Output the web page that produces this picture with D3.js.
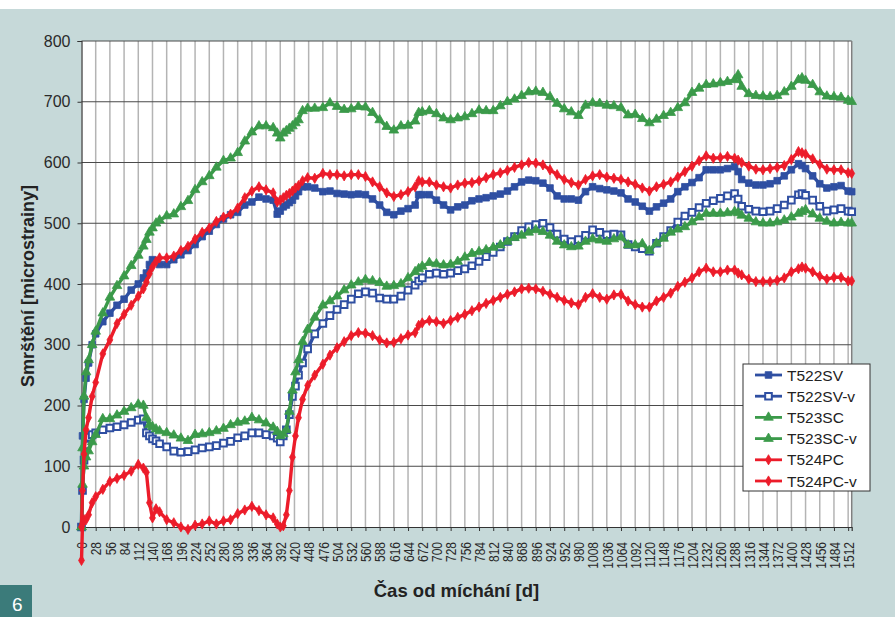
<!DOCTYPE html>
<html>
<head>
<meta charset="utf-8">
<script src="https://cdn.jsdelivr.net/npm/d3@7"></script>
<style>
  html, body { margin: 0; padding: 0; background: #ffffff; }
  svg { display: block; font-family: "Liberation Sans", Arial, sans-serif; }
</style>
</head>
<body>
<svg id="chart" width="895" height="617"></svg>
<script>
// ---------------- DATA ----------------
const days = [0, 2, 5, 9, 14, 21, 28, 42, 56, 70, 84, 98, 112, 122, 128, 134, 140, 147, 154, 168, 182, 196, 210, 224, 238, 252, 266, 280, 294, 308, 322, 336, 350, 364, 378, 386, 392, 398, 404, 410, 416, 422, 428, 436, 446, 460, 476, 490, 504, 518, 532, 546, 560, 574, 588, 602, 616, 630, 644, 658, 665, 672, 686, 700, 714, 728, 742, 756, 770, 784, 798, 812, 826, 840, 854, 868, 882, 896, 910, 924, 938, 952, 966, 980, 994, 1008, 1022, 1036, 1050, 1064, 1078, 1092, 1106, 1120, 1134, 1148, 1162, 1176, 1190, 1204, 1218, 1232, 1246, 1260, 1274, 1288, 1295, 1302, 1316, 1330, 1344, 1358, 1372, 1386, 1400, 1414, 1421, 1428, 1442, 1456, 1470, 1484, 1498, 1512, 1519];

const t522SV = [0, 150, 210, 245, 270, 300, 318, 338, 352, 365, 375, 390, 400, 410, 418, 432, 440, 438, 432, 432, 440, 448, 455, 465, 478, 487, 498, 507, 514, 518, 530, 535, 543, 540, 538, 515, 520, 527, 530, 534, 538, 545, 552, 560, 560, 558, 552, 553, 549, 548, 547, 548, 547, 540, 530, 518, 514, 520, 524, 530, 547, 547, 547, 538, 530, 522, 527, 530, 537, 540, 542, 545, 548, 553, 560, 568, 571, 570, 566, 558, 545, 540, 540, 538, 552, 560, 557, 555, 553, 550, 540, 535, 528, 520, 527, 533, 540, 552, 560, 567, 575, 588, 588, 588, 590, 593, 585, 572, 566, 563, 563, 565, 570, 578, 588, 598, 595, 590, 578, 565, 558, 560, 562, 553, 552];

const t522SVv = [0, 60, 110, 135, 148, 152, 155, 160, 163, 165, 168, 172, 176, 178, 155, 150, 145, 142, 137, 132, 125, 123, 124, 127, 130, 132, 134, 138, 141, 147, 150, 155, 155, 152, 150, 146, 140, 150, 160, 185, 215, 232, 250, 270, 293, 318, 335, 348, 358, 366, 375, 384, 387, 385, 377, 375, 375, 380, 390, 398, 405, 410, 416, 418, 416, 418, 422, 425, 430, 437, 445, 452, 461, 470, 478, 488, 494, 498, 500, 493, 482, 474, 470, 473, 480, 489, 485, 481, 482, 481, 465, 461, 458, 454, 467, 478, 488, 502, 512, 518, 526, 533, 537, 541, 545, 549, 540, 528, 523, 520, 519, 520, 524, 530, 538, 547, 549, 546, 538, 528, 520, 522, 524, 520, 519];

const t523SC = [0, 130, 215, 255, 275, 300, 322, 352, 378, 397, 413, 430, 447, 462, 473, 485, 492, 500, 505, 512, 515, 527, 537, 555, 568, 578, 592, 603, 607, 616, 635, 650, 660, 660, 657, 648, 640, 648, 652, 656, 660, 665, 670, 685, 689, 689, 690, 698, 692, 687, 688, 692, 691, 682, 670, 659, 653, 660, 661, 668, 682, 683, 685, 680, 673, 670, 673, 675, 680, 686, 685, 685, 693, 700, 704, 710, 716, 717, 715, 708, 697, 688, 683, 677, 694, 698, 697, 694, 693, 690, 678, 679, 672, 665, 671, 677, 682, 690, 698, 715, 722, 728, 729, 731, 733, 736, 744, 725, 713, 710, 709, 708, 710, 716, 725, 736, 739, 735, 728, 716, 709, 708, 707, 702, 700];

const t523SCv = [0, 70, 100, 115, 125, 140, 152, 178, 178, 184, 190, 196, 202, 200, 180, 168, 165, 161, 158, 155, 151, 146, 142, 152, 153, 155, 158, 162, 168, 172, 174, 180, 176, 171, 164, 157, 150, 153, 160, 190, 225, 255, 275, 305, 325, 345, 365, 372, 380, 390, 398, 403, 407, 405, 402, 396, 397, 400, 410, 420, 425, 429, 435, 433, 431, 432, 437, 444, 450, 453, 456, 460, 464, 470, 476, 480, 485, 489, 486, 480, 470, 464, 461, 462, 470, 474, 472, 470, 474, 477, 464, 464, 466, 455, 467, 475, 485, 490, 494, 502, 510, 516, 516, 516, 517, 519, 517, 513, 508, 502, 500, 500, 502, 505, 510, 516, 519, 522, 515, 508, 503, 500, 501, 500, 500];

const t524PC = [0, 60, 120, 160, 180, 215, 238, 285, 308, 335, 350, 365, 380, 392, 403, 417, 428, 437, 443, 443, 446, 455, 462, 474, 485, 492, 503, 510, 515, 525, 542, 553, 560, 555, 550, 535, 538, 542, 546, 549, 553, 558, 562, 570, 575, 574, 582, 580, 580, 578, 580, 580, 577, 568, 560, 550, 544, 547, 552, 560, 570, 568, 568, 563, 560, 558, 563, 566, 567, 570, 575, 580, 583, 587, 592, 596, 600, 599, 596, 588, 580, 572, 567, 563, 572, 578, 580, 576, 574, 572, 568, 564, 558, 553, 560, 564, 568, 576, 585, 594, 603, 611, 607, 608, 610, 607, 604, 600, 594, 589, 588, 590, 592, 595, 605, 618, 616, 614, 606, 597, 589, 588, 588, 583, 582];

const t524PCv = [-55, 5, 12, 12, 20, 40, 50, 62, 75, 80, 85, 92, 103, 97, 90, 40, 15, 30, 25, 12, 7, 0, -4, 3, 5, 10, 5, 10, 12, 22, 28, 34, 27, 20, 15, 5, 0, 2, 20, 60, 115, 150, 180, 210, 233, 250, 268, 283, 295, 305, 315, 320, 319, 315, 308, 303, 304, 310, 316, 320, 332, 336, 340, 338, 335, 340, 345, 350, 356, 362, 368, 373, 378, 383, 387, 392, 393, 392, 388, 383, 378, 373, 369, 366, 378, 384, 378, 375, 382, 383, 372, 366, 362, 362, 372, 378, 385, 396, 403, 410, 420, 426, 420, 420, 423, 423, 418, 415, 408, 404, 404, 404, 406, 410, 420, 425, 428, 426, 420, 413, 408, 411, 411, 405, 405];

const seriesNames = ["T522SV", "T522SV-v", "T523SC", "T523SC-v", "T524PC", "T524PC-v"];
const seriesValues = [t522SV, t522SVv, t523SC, t523SCv, t524PC, t524PCv];
const xTickValues = d3.range(0, 1513, 28);
const yTickValues = [0, 100, 200, 300, 400, 500, 600, 700, 800];

// ---------------- STYLE ----------------
const BLUE = "#2f4fa2", GREEN = "#3b9a4a", RED = "#ec1c2a";
const styles = [
  { color: BLUE,  shape: "square",   fill: BLUE },
  { color: BLUE,  shape: "square",   fill: "#ffffff" },
  { color: GREEN, shape: "triangle", fill: GREEN },
  { color: GREEN, shape: "triangle", fill: GREEN },
  { color: RED,   shape: "diamond",  fill: RED },
  { color: RED,   shape: "diamond",  fill: RED }
];

const svg = d3.select("#chart");
const W = 895, H = 617;

// background
svg.append("rect").attr("x", 0).attr("y", 0).attr("width", W).attr("height", H).attr("fill", "#c6d9d9");
svg.append("rect").attr("x", 0).attr("y", 0).attr("width", W).attr("height", 9).attr("fill", "#ffffff");

const plot = { left: 81.5, right: 851.7, top: 41, bottom: 527 };

const x = d3.scaleLinear().domain([0, 1519]).range([plot.left, plot.right]);
const y = d3.scaleLinear().domain([0, 800]).range([plot.bottom, plot.top]);

// plot area
svg.append("rect")
  .attr("x", plot.left).attr("y", plot.top)
  .attr("width", plot.right - plot.left).attr("height", plot.bottom - plot.top)
  .attr("fill", "#ffffff");

// vertical gridlines
svg.append("g").selectAll("line").data(xTickValues.filter(d => d > 0)).join("line")
  .attr("x1", d => x(d)).attr("x2", d => x(d))
  .attr("y1", plot.top).attr("y2", plot.bottom)
  .attr("stroke", "#b4b4b4").attr("stroke-width", 1.5);

// horizontal gridlines
svg.append("g").selectAll("line").data(yTickValues.filter(d => d > 0)).join("line")
  .attr("x1", plot.left).attr("x2", plot.right)
  .attr("y1", d => y(d)).attr("y2", d => y(d))
  .attr("stroke", "#4a4a4a").attr("stroke-width", 1);

// right border
svg.append("line").attr("x1", plot.right).attr("x2", plot.right)
  .attr("y1", plot.top).attr("y2", plot.bottom)
  .attr("stroke", "#808080").attr("stroke-width", 1.5);

// Y axis
const yAxis = d3.axisLeft(y).tickValues(yTickValues).tickSize(4).tickPadding(7);
const gy = svg.append("g").attr("transform", `translate(${plot.left},0)`).call(yAxis);
gy.select(".domain").attr("stroke", "#333").attr("stroke-width", 1.2);
gy.selectAll(".tick line").attr("stroke", "#333");
gy.selectAll(".tick text").attr("font-size", 16).attr("fill", "#2a2a2a")
  .attr("font-family", "Liberation Sans, Arial, sans-serif");

// X axis
const xAxis = d3.axisBottom(x).tickValues(xTickValues).tickSize(4).tickFormat(d3.format("d"));
const gx = svg.append("g").attr("transform", `translate(0,${plot.bottom})`).call(xAxis);
gx.select(".domain").attr("stroke", "#333").attr("stroke-width", 1.2);
gx.selectAll(".tick line").attr("stroke", "#333");
gx.selectAll(".tick text")
  .attr("font-size", 15).attr("fill", "#2a2a2a")
  .attr("font-family", "Liberation Sans, Arial, sans-serif")
  .attr("text-anchor", "end")
  .attr("dy", "0.35em")
  .attr("y", 0)
  .attr("transform", "translate(0,15) rotate(-90) scale(0.8,1)");

// series
const symbolFor = s => s === "square" ? d3.symbolSquare : (s === "triangle" ? d3.symbolTriangle : d3.symbolDiamond);
const sizeFor = s => s === "square" ? 44 : (s === "triangle" ? 40 : 30);

const line = d3.line().x(d => x(d[0])).y(d => y(d[1]));

seriesValues.forEach((vals, i) => {
  const st = styles[i];
  const pts = days.map((d, k) => [d, vals[k]]);
  const g = svg.append("g");
  g.append("path").datum(pts).attr("d", line)
    .attr("fill", "none").attr("stroke", st.color).attr("stroke-width", 3.4)
    .attr("stroke-linejoin", "round");
  g.selectAll("path.m").data(pts).join("path").attr("class", "m")
    .attr("transform", d => `translate(${x(d[0])},${y(d[1])})`)
    .attr("d", d3.symbol().type(symbolFor(st.shape)).size(sizeFor(st.shape)))
    .attr("fill", st.fill).attr("stroke", st.color).attr("stroke-width", st.fill === "#ffffff" ? 2 : 0.8);
});

// legend
const lg = svg.append("g");
lg.append("rect").attr("x", 743).attr("y", 364).attr("width", 127).attr("height", 127)
  .attr("fill", "#ffffff").attr("stroke", "#333").attr("stroke-width", 1);
seriesNames.forEach((name, i) => {
  const st = styles[i];
  const ly = 375 + i * 21.2;
  lg.append("line").attr("x1", 755).attr("x2", 782).attr("y1", ly).attr("y2", ly)
    .attr("stroke", st.color).attr("stroke-width", 2.8);
  lg.append("path").attr("transform", `translate(768.5,${ly})`)
    .attr("d", d3.symbol().type(symbolFor(st.shape)).size(sizeFor(st.shape)))
    .attr("fill", st.fill).attr("stroke", st.color).attr("stroke-width", st.fill === "#ffffff" ? 2 : 0.8);
  lg.append("text").attr("x", 787).attr("y", ly).attr("dy", "0.36em")
    .attr("font-size", 15.5).attr("fill", "#222").text(name);
});

// axis titles
svg.append("text").attr("x", 456.5).attr("y", 596.5).attr("text-anchor", "middle")
  .attr("font-size", 18.5).attr("font-weight", "bold").attr("fill", "#222")
  .text("Čas od míchání [d]");
svg.append("text").attr("transform", "translate(34,286) rotate(-90)").attr("text-anchor", "middle")
  .attr("font-size", 18).attr("font-weight", "bold").attr("fill", "#222")
  .text("Smrštění [microstrainy]");

// figure number box
svg.append("rect").attr("x", 0).attr("y", 585).attr("width", 32).attr("height", 32).attr("fill", "#3b7b7a");
svg.append("text").attr("x", 12).attr("y", 611).attr("font-size", 19).attr("fill", "#ffffff").text("6");
</script>
</body>
</html>
